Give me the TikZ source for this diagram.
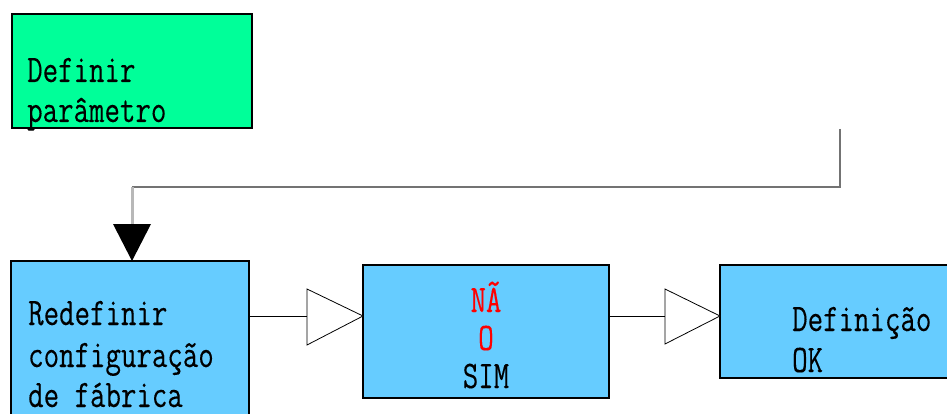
\documentclass[tikz,border=0pt]{standalone}
\usepackage{fontspec}
\usetikzlibrary{calc}
\setmonofont{Latin Modern Mono}[FakeStretch=0.77,FakeBold=0.2]
\begin{document}
\begin{tikzpicture}[x=1pt,y=-1pt,
  box/.style={draw=black, line width=1.6pt, inner sep=0pt, outer sep=0pt, anchor=north west},
  lbl/.style={anchor=base west, inner sep=0pt, font=\ttfamily\fontsize{39}{40}\selectfont},
  clbl/.style={lbl, anchor=base},
  conn/.style={draw=black!55, line width=1.2pt},
  stub/.style={draw=black!28, line width=3pt},
  flow/.style={draw=black, line width=0.8pt}]
\clip (0,0) rectangle (947,414);
\fill[white] (0,0) rectangle (947,414);
\definecolor{boxgreen}{RGB}{0,255,153}
\definecolor{boxblue}{RGB}{102,204,255}
% boxes
\node[box, fill=boxgreen, minimum width=240pt, minimum height=114pt] (g) at (12,14) {};
\node[box, fill=boxblue, minimum width=238pt, minimum height=170pt] (b1) at (11,261) {};
\node[box, fill=boxblue, minimum width=246pt, minimum height=133pt] (b2) at (363,265) {};
\node[box, fill=boxblue, minimum width=240pt, minimum height=113pt] (b3) at (720,265) {};
% texts
\node[lbl] (g1) at (27,82) {Definir};
\node[lbl] (g2) at (27,122) {parâmetro};
\node[lbl] (r1) at (28,325) {Redefinir};
\node[lbl] (r2) at (28,367) {configuração};
\node[lbl] (r3) at (28,407) {de fábrica};
\node[clbl, text=red] (n1) at (486,312) {NÃ};
\node[clbl, text=red] (n2) at (486,350) {O};
\node[clbl] (n3) at (486,388) {SIM};
\node[lbl] (d1) at (792,331) {Definição};
\node[lbl] (d2) at (792,372) {OK};
% top connector
\coordinate (c0) at (840,129);
\coordinate (c2) at (132,187);
\draw[conn] (c0) |- (c2);
\draw[stub] (c2) -- ++(0,37);
\fill[black] (c2 |- b1.north) -- ++(-19,-37) -- ++(38,0) -- cycle;
% flow arrows
\coordinate (ya) at (0,316);
\draw[flow] (b1.east |- ya) -- ($(b2.west |- ya)+(-56,0)$);
\draw[flow, fill=white] (b2.west |- ya) -- ++(-56,-27) -- ++(0,56) -- cycle;
\draw[flow] (b2.east |- ya) -- ($(b3.west |- ya)+(-55,0)$);
\draw[flow, fill=white] (b3.west |- ya) -- ++(-55,-27) -- ++(0,55) -- cycle;
\end{tikzpicture}
\end{document}
